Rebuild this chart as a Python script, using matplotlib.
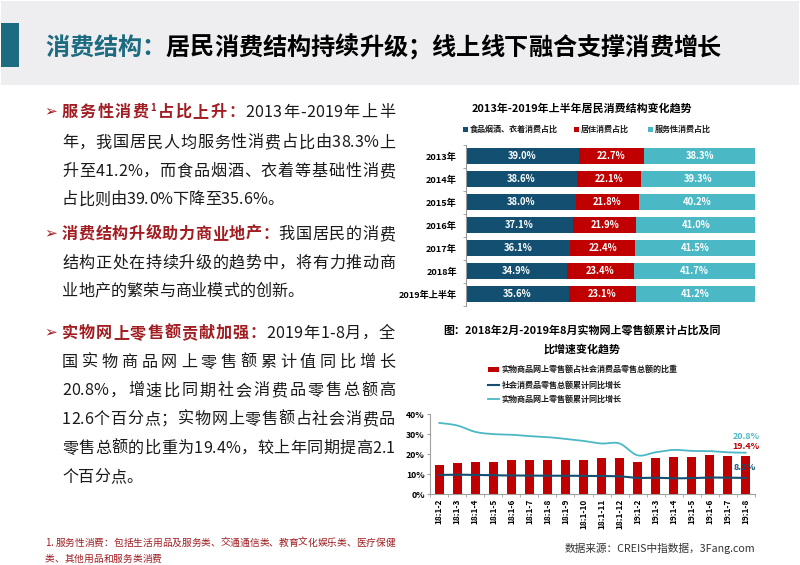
import numpy as np
import matplotlib
matplotlib.use("Agg")
import matplotlib.pyplot as plt
from matplotlib.transforms import Affine2D
from matplotlib.patches import Rectangle
from matplotlib.lines import Line2D
from matplotlib.font_manager import findfont, FontProperties
from matplotlib.ft2font import FT2Font

CJK = 'Noto Sans CJK SC'
FAM = [CJK, 'DejaVu Sans']
plt.rcParams['font.family'] = FAM

# ---------------- data ----------------
years = ['2013年', '2014年', '2015年', '2016年', '2017年', '2018年', '2019年上半年']
food = [39.0, 38.6, 38.0, 37.1, 36.1, 34.9, 35.6]
housing = [22.7, 22.1, 21.8, 21.9, 22.4, 23.4, 23.1]
service = [38.3, 39.3, 40.2, 41.0, 41.5, 41.7, 41.2]
struct_legend = ['食品烟酒、衣着消费占比', '居住消费占比', '服务性消费占比']

months = ['18:1-2', '18:1-3', '18:1-4', '18:1-5', '18:1-6', '18:1-7', '18:1-8', '18:1-9',
          '18:1-10', '18:1-11', '18:1-12', '19:1-2', '19:1-3', '19:1-4', '19:1-5',
          '19:1-6', '19:1-7', '19:1-8']
online_share = [14.7, 15.8, 16.2, 16.4, 17.4, 17.3, 17.3, 17.3, 17.3, 18.0, 18.4,
                16.3, 18.0, 18.6, 18.9, 19.6, 19.4, 19.4]
retail_growth = [9.7, 9.8, 9.7, 9.5, 9.4, 9.3, 9.3, 9.3, 9.2, 9.1, 9.0,
                 8.2, 8.3, 8.0, 8.1, 8.4, 8.3, 8.2]
online_growth = [35.7, 34.4, 31.2, 30.1, 29.8, 29.1, 28.6, 27.7, 26.7, 25.4, 25.4,
                 19.5, 21.0, 22.2, 21.7, 21.6, 21.0, 20.8]
online_legend = ['实物商品网上零售额占社会消费品零售总额的比重',
                 '社会消费品零售总额累计同比增长',
                 '实物商品网上零售额累计同比增长']

# ---------------- colours ----------------
TEAL = '#1c6b80'
DRED = '#a11d22'
NAVY = '#134f70'
RED = '#c00000'
CYAN = '#4bb8c5'

W, H = 800, 565
fig = plt.figure(figsize=(W / 100, H / 100), dpi=100)
fig.patch.set_facecolor('white')
PX = Affine2D().scale(1, -1).translate(0, H)

# header band
fig.add_artist(Rectangle((1, 1), 798, 84, transform=PX, facecolor='#eeedf0', edgecolor='none'))
fig.add_artist(Rectangle((1, 23), 18, 44, transform=PX, facecolor=TEAL, edgecolor='none'))

# ---------------- text layout helpers ----------------
_fonts = {}


def _font(family, weight, size):
    key = (family, weight, size)
    if key not in _fonts:
        path = findfont(FontProperties(family=family, weight=weight))
        f = FT2Font(path)
        f.set_size(size, 100)
        _fonts[key] = f
    return _fonts[key]


def advance(ch, weight, size):
    f = _font(CJK, weight, size)
    if f.get_char_index(ord(ch)) == 0:
        f = _font('DejaVu Sans', weight, size)
    g = f.load_char(ord(ch))
    return g.linearHoriAdvance / 65536.0


def draw_line(x0, yc, runs, size, justify_to=None):
    """runs: list of (text, color, weight, scale, dy)"""
    chars = []
    for text, color, weight, scale, dy in runs:
        for ch in text:
            fs = size * scale
            chars.append((ch, color, weight, fs, dy, advance(ch, weight, fs)))
    natural = sum(c[5] for c in chars)
    # gaps between two latin characters are not stretched
    gw = []
    for a, b in zip(chars[:-1], chars[1:]):
        gw.append(0.0 if (ord(a[0]) < 128 and ord(b[0]) < 128) else 1.0)
    extra = 0.0
    if justify_to is not None and sum(gw) > 0:
        extra = (justify_to - x0 - natural) / sum(gw)
    em = size * 100 / 72
    base = yc + 0.37 * em
    x = x0
    for k, (ch, color, weight, fs, dy, adv) in enumerate(chars):
        fig.text(x, base + dy, ch, transform=PX, fontsize=fs, color=color,
                 fontweight=weight, ha='left', va='baseline', family=FAM)
        x += adv + (extra * gw[k] if k < len(gw) else 0)


def arrow(yc):
    fig.text(44, yc, '➢', transform=PX, fontsize=11, color=DRED, ha='left',
             va='center', family=['DejaVu Sans'], fontweight='bold')


# title
draw_line(45, 46, [('消费结构：', TEAL, 'bold', 1, 0),
                   ('居民消费结构持续升级；线上线下融合支撑消费增长', 'black', 'bold', 1, 0)], 17.4)

BS = 11.6
RX = 395
LX = 62
def N(t):
    return (t, '#1a1a1a', 'normal', 1, 0)
def R(t):
    return (t, DRED, 'bold', 1, 0)

arrow(111)
draw_line(LX, 111, [R('服务性消费'), ('1', DRED, 'bold', 0.6, -6), R('占比上升：'),
                    N('2013年-2019年上半')], BS, RX)
draw_line(LX, 141.5, [N('年，我国居民人均服务性消费占比由38.3%上')], BS, RX)
draw_line(LX, 170, [N('升至41.2%，而食品烟酒、衣着等基础性消费')], BS, RX)
draw_line(LX, 198.5, [N('占比则由39.0%下降至35.6%。')], BS)

arrow(233)
draw_line(LX, 233, [R('消费结构升级助力商业地产：'), N('我国居民的消费')], BS, RX)
draw_line(LX, 262, [N('结构正处在持续升级的趋势中，将有力推动商')], BS, RX)
draw_line(LX, 290, [N('业地产的繁荣与商业模式的创新。')], BS)

arrow(332)
draw_line(LX, 332, [R('实物网上零售额贡献加强：'), N('2019年1-8月，全')], BS, RX)
draw_line(LX, 361, [N('国实物商品网上零售额累计值同比增长')], BS, RX)
draw_line(LX, 389.5, [N('20.8%，增速比同期社会消费品零售总额高')], BS, RX)
draw_line(LX, 418, [N('12.6个百分点；实物网上零售额占社会消费品')], BS, RX)
draw_line(LX, 447, [N('零售总额的比重为19.4%，较上年同期提高2.1')], BS, RX)
draw_line(LX, 476, [N('个百分点。')], BS)

FN = 7.0
draw_line(45, 542, [('1. 服务性消费：包括生活用品及服务类、交通通信类、教育文化娱乐类、医疗保健',
                     DRED, 'normal', 1, 0)], FN, RX)
draw_line(45, 558, [('类、其他用品和服务类消费', DRED, 'normal', 1, 0)], FN)

# ---------------- chart 1: stacked horizontal bars ----------------
fig.text(582, 108, '2013年-2019年上半年居民消费结构变化趋势', transform=PX, fontsize=7.9,
         fontweight='bold', ha='center', va='center')
leg_cols = [NAVY, RED, CYAN]
leg_x = [463, 574, 648]
for lx, col, lab in zip(leg_x, leg_cols, struct_legend):
    fig.add_artist(Rectangle((lx, 127), 4.5, 4.5, transform=PX, facecolor=col, edgecolor='none'))
    fig.text(lx + 6.5, 129.5, lab, transform=PX, fontsize=5.8, fontweight='bold',
             ha='left', va='center', color='#1a1a1a')

l1, r1, t1, b1 = 465.7, 755, 144.5, 305.5
ax1 = fig.add_axes([l1 / W, 1 - b1 / H, (r1 - l1) / W, (b1 - t1) / H])
ypos = np.arange(len(years))
food_a = np.array(food)
hous_a = np.array(housing)
serv_a = np.array(service)
bh = 0.66
ax1.barh(ypos, food_a, height=bh, color=NAVY, edgecolor='none')
ax1.barh(ypos, hous_a, left=food_a, height=bh, color=RED, edgecolor='none')
ax1.barh(ypos, serv_a, left=food_a + hous_a, height=bh, color=CYAN, edgecolor='none')
for i in range(len(years)):
    for left, val in ((0, food_a[i]), (food_a[i], hous_a[i]), (food_a[i] + hous_a[i], serv_a[i])):
        ax1.text(left + val / 2, ypos[i], f'{val:.1f}%', ha='center', va='center',
                 color='white', fontsize=6.8, fontweight='bold')
ax1.set_xlim(0, 100)
ax1.set_ylim(len(years) - 0.5, -0.5)
ax1.set_yticks(ypos)
ax1.set_yticklabels(years, fontsize=6.6, fontweight='bold')
ax1.set_yticks(np.arange(-0.5, len(years)), minor=True)
ax1.tick_params(axis='y', which='major', length=0, pad=6.3)
ax1.tick_params(axis='y', which='minor', length=2.5, color='#999999', direction='out')
ax1.set_xticks([])
for s in ('top', 'right', 'bottom'):
    ax1.spines[s].set_visible(False)
ax1.spines['left'].set_color('#999999')
ax1.spines['left'].set_linewidth(0.8)
ax1.patch.set_alpha(0)

# ---------------- chart 2: bars + lines ----------------
fig.text(582, 331, '图：2018年2月-2019年8月实物网上零售额累计占比及同', transform=PX,
         fontsize=7.9, fontweight='bold', ha='center', va='center')
fig.text(582, 349, '比增速变化趋势', transform=PX, fontsize=7.9, fontweight='bold',
         ha='center', va='center')

leg_y = [369.3, 385, 399.3]
fig.add_artist(Rectangle((488, leg_y[0] - 2.6), 10.5, 5.2, transform=PX, facecolor=RED,
                         edgecolor='none'))
fig.add_artist(Line2D([488, 498.5], [leg_y[1], leg_y[1]], transform=PX, color=NAVY, lw=1.5))
fig.add_artist(Line2D([488, 498.5], [leg_y[2], leg_y[2]], transform=PX, color=CYAN, lw=1.3))
for yy, lab in zip(leg_y, online_legend):
    fig.text(502, yy, lab, transform=PX, fontsize=5.8, fontweight='bold', ha='left',
             va='center', color='#1a1a1a')

l2, r2, t2, b2 = 430.3, 754.7, 414.3, 494.3
ax2 = fig.add_axes([l2 / W, 1 - b2 / H, (r2 - l2) / W, (b2 - t2) / H])
xi = np.arange(len(months))
ax2.bar(xi, np.array(online_share) / 100, width=0.5, color=RED, edgecolor='none', zorder=2)


def smooth(xs, ys, n=24):
    P = np.column_stack([np.asarray(xs, float), np.asarray(ys, float)])
    P = np.vstack([P[0], P, P[-1]])
    segs = []
    t = np.linspace(0, 1, n, endpoint=False)[:, None]
    for i in range(1, len(P) - 2):
        p0, p1, p2, p3 = P[i - 1], P[i], P[i + 1], P[i + 2]
        c1 = p1 + (p2 - p0) / 6
        c2 = p2 - (p3 - p1) / 6
        segs.append((1 - t) ** 3 * p1 + 3 * (1 - t) ** 2 * t * c1 + 3 * (1 - t) * t ** 2 * c2 + t ** 3 * p2)
    segs.append(P[-2][None])
    S = np.vstack(segs)
    return S[:, 0], S[:, 1]


sx, sy = smooth(xi, np.array(retail_growth) / 100)
ax2.plot(sx, sy, color=NAVY, lw=1.5, zorder=3)
sx, sy = smooth(xi, np.array(online_growth) / 100)
ax2.plot(sx, sy, color=CYAN, lw=1.3, zorder=3)

ax2.set_xlim(-0.5, len(months) - 0.5)
ax2.set_ylim(0, 0.4)
ax2.set_yticks([0, 0.1, 0.2, 0.3, 0.4])
ax2.set_yticklabels(['0%', '10%', '20%', '30%', '40%'], fontsize=6.3, fontweight='bold')
ax2.set_xticks(xi)
ax2.set_xticklabels(months, rotation=90, fontsize=6.0, fontweight='bold')
ax2.set_xticks(np.arange(-0.5, len(months)), minor=True)
ax2.tick_params(axis='x', which='major', length=0, pad=3)
ax2.tick_params(axis='x', which='minor', length=2.5, color='#a0a0a0')
ax2.tick_params(axis='y', which='major', length=2.5, color='#a0a0a0', pad=1.5)
for s in ('top', 'right'):
    ax2.spines[s].set_visible(False)
for s in ('left', 'bottom'):
    ax2.spines[s].set_color('#a0a0a0')
    ax2.spines[s].set_linewidth(0.8)
ax2.patch.set_alpha(0)

fig.text(746, 436.8, f'{online_growth[-1]:.1f}%', transform=PX, fontsize=6.4,
         fontweight='bold', color=CYAN, ha='center', va='center')
fig.text(746, 446.6, f'{online_share[-1]:.1f}%', transform=PX, fontsize=6.4,
         fontweight='bold', color=RED, ha='center', va='center')
fig.text(745, 467, f'{retail_growth[-1]:.1f}%', transform=PX, fontsize=6.6,
         fontweight='bold', color=NAVY, ha='center', va='center', zorder=1)

fig.text(565, 548, '数据来源：CREIS中指数据，3Fang.com', transform=PX, fontsize=7.7,
         color='#333333', ha='left', va='center')

fig.savefig('out.png', dpi=100)
